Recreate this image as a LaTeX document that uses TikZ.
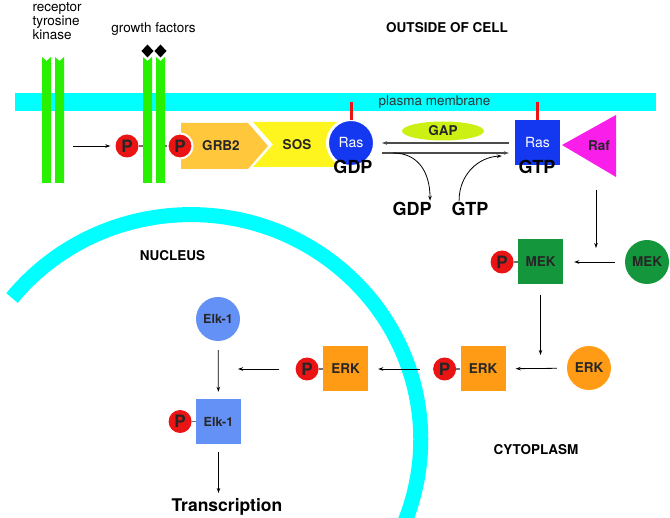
\documentclass[tikz,border=0pt]{standalone}
\usepackage{fontspec}
\setmainfont{TeX Gyre Heros}
\usepackage{tikz}
\usetikzlibrary{positioning,arrows.meta,shapes.geometric}
\definecolor{membcyan}{RGB}{0,255,255}
\definecolor{rtkgreen}{RGB}{40,240,0}
\definecolor{pred}{RGB}{235,20,20}
\definecolor{grbor}{RGB}{255,200,60}
\definecolor{sosyel}{RGB}{255,245,30}
\definecolor{rasblue}{RGB}{20,55,240}
\definecolor{gapgrn}{RGB}{205,240,20}
\definecolor{rafmag}{RGB}{250,30,235}
\definecolor{mekgrn}{RGB}{20,150,60}
\definecolor{erkor}{RGB}{255,155,20}
\definecolor{elkblue}{RGB}{100,145,245}
\newcommand{\fsz}[1]{\fontsize{#1}{14}\selectfont}

\begin{document}
\begin{tikzpicture}[
  x=1pt,y=-1pt,
  lbl/.style={font=\fsz{13.5}},
  hdr/.style={font=\bfseries\fsz{13.5}},
  big/.style={font=\bfseries\fsz{18}},
  prot/.style={inner sep=0pt,font=\bfseries\fsz{13.5},text=black!85},
  sq/.style={prot,minimum size=45pt},
  blob/.style={prot,circle,minimum size=44pt},
  phos/.style={circle,fill=pred,inner sep=0pt,minimum size=23pt,font=\bfseries\fsz{17},text=black!85},
  link/.style={draw=black!55,line width=1.3pt},
  flow/.style={->,line width=0.8pt},
  xch/.style={->,draw=black!70,line width=1.6pt},
  stick/.style={draw=pred,line width=3pt},
  >={Stealth[length=5pt,width=3.5pt]}
]
\useasboundingbox (0,0) rectangle (670,518);
% --- membranes ---
\node[fill=membcyan,minimum width=641pt,minimum height=18pt,inner sep=0pt] (memb) at (335.5,102) {};
\node[lbl,text=black!80] (pmlbl) at (434.5,102) {plasma membrane};
\begin{scope}
\clip (0,0) rectangle (670,518);
\draw[membcyan,line width=15pt] (12,298) arc[start angle=141,end angle=-25,x radius=230pt,y radius=225pt];
\end{scope}
% --- receptors ---
\foreach \bx in {42,55,143,156}{\fill[rtkgreen] (\bx,57) -- ++(4.5,4) -- ++(4.5,-4) -- ++(0,126) -- ++(-9,0) -- cycle;}
\foreach \dx in {147.5,160.5}{\fill (\dx,44.5) -- ++(6,6.5) -- ++(-6,6.5) -- ++(-6,-6.5) -- cycle;}
\node[lbl,align=left,anchor=west] (rtklbl) at (29,21) {receptor\\tyrosine\\kinase};
\node[lbl] (gflbl) at (153.5,29) {growth factors};
\node[hdr] (outside) at (447,28) {OUTSIDE OF CELL};
\coordinate (rtka) at (73,146);
\coordinate (rtkb) at (143,146);
\coordinate (rtkc) at (165,146);
\node[phos] (p1) at (127,146) {P};
\draw[flow,shorten >=5pt] (rtka) -- (p1);
\draw[link] (p1) -- (rtkb);
% --- adaptor complex ---
\fill[grbor] (181,123) -- (248,123) -- (268,146) -- (248,169) -- (181,169) -- cycle;
\node[prot] (grb2) at (221,146) {GRB2};
\fill[sosyel] (253,122) -- (338,122) -- (338,167) -- (253,167) -- (273,144.5) -- cycle;
\node[prot] (sos) at (297,145) {SOS};
\node[phos,draw=white,line width=2pt,minimum size=25pt] (p2) at (180,146) {P};
\draw[link] (rtkc) -- (p2);
% --- Ras cycle ---
\node[circle,fill=rasblue,draw=white,line width=3pt,minimum size=47pt,inner sep=0pt,text=white,font=\fsz{14}] (rasgdp) at (351,143) {Ras};
\draw[stick] ([yshift=-2pt]rasgdp.north) -- (rasgdp.north |- memb.center);
\node[big] (gdpras) at (353,167) {GDP};
\node[sq,fill=rasblue,text=white,font=\fsz{14}] (rasgtp) at (537.5,143) {Ras};
\draw[stick] (rasgtp.north) -- (rasgtp.north |- memb.center);
\node[big] (gtpras) at (537,167) {GTP};
\node[ellipse,fill=gapgrn,minimum width=82pt,minimum height=19pt,prot] (gap) at (443,131) {GAP};
\draw[xch] ([xshift=-6pt]rasgtp.west) -- ([xshift=6pt]rasgdp.east);
\draw[xch] ([xshift=6pt,yshift=-10pt]rasgdp.east) -- ([xshift=-6pt,yshift=-10pt]rasgtp.west);
\node[big] (gdpout) at (412,209) {GDP};
\node[big] (gtpin) at (470,209) {GTP};
\draw[flow] ([xshift=17pt,yshift=-10pt]rasgdp.east) .. controls (418,153) and (430,172) .. ([xshift=-5pt,yshift=-2pt]gdpout.north east);
\draw[flow] ([xshift=11pt,yshift=-2pt]gtpin.north west) .. controls (459,175) and (478,157) .. ([xshift=-13pt,yshift=-13pt]rasgtp.west);
\fill[rafmag] (562,145) -- (616,115) -- (616,177) -- cycle;
\node[prot] (raf) at (599,146) {Raf};
% --- kinase cascade ---
\coordinate (rafbase) at (596,190);
\coordinate (mekjoin) at (596,248);
\draw[flow] (rafbase) -- (mekjoin);
\node[blob,fill=mekgrn] (mekin) at (647,262) {MEK};
\node[sq,fill=mekgrn] (mek) at (540.5,262) {MEK};
\node[phos,left=4pt of mek] (pmek) {P};
\draw[link] (pmek) -- (mek);
\draw[flow,shorten <=10pt,shorten >=11pt] (mekin) -- (mek);
\coordinate (erkjoin) at (mek.south |- 0,355);
\draw[flow,shorten <=10pt] (mek.south) -- (erkjoin);
\node[blob,fill=erkor] (erkin) at (589,368) {ERK};
\node[sq,fill=erkor] (erk) at (483,369) {ERK};
\node[phos,left=4pt of erk] (perk) {P};
\draw[link] (perk) -- (erk);
\draw[flow,shorten <=10pt,shorten >=10pt] (erkin) -- (erk);
\node[sq,fill=erkor] (erkn) at (345.5,369) {ERK};
\node[phos,left=4pt of erkn] (perkn) {P};
\draw[link] (perkn) -- (erkn);
\draw[flow,shorten <=13pt,shorten >=10pt] (perk) -- (erkn);
% --- nucleus ---
\node[hdr] (nucleus) at (172.5,256) {NUCLEUS};
\node[hdr] (cyto) at (536,450) {CYTOPLASM};
\coordinate (elkjoin) at (238,369);
\draw[flow,shorten <=16pt] (perkn) -- (elkjoin);
\node[blob,fill=elkblue,font=\bfseries\fsz{12.5}] (elkin) at (218,319) {Elk-1};
\node[sq,fill=elkblue,font=\bfseries\fsz{12.5}] (elk) at (218.5,421.5) {Elk-1};
\node[phos,left=4pt of elk] (pelk) {P};
\draw[link] (pelk) -- (elk);
\draw[flow,shorten <=9pt,shorten >=7pt] (elkin) -- (elk);
\node[font=\bfseries\fsz{17.5}] (tx) at (227,507) {Transcription};
\draw[flow,shorten <=8pt,shorten >=2pt] (elk.south) -- (elk.south |- tx.north);
\end{tikzpicture}
\end{document}
